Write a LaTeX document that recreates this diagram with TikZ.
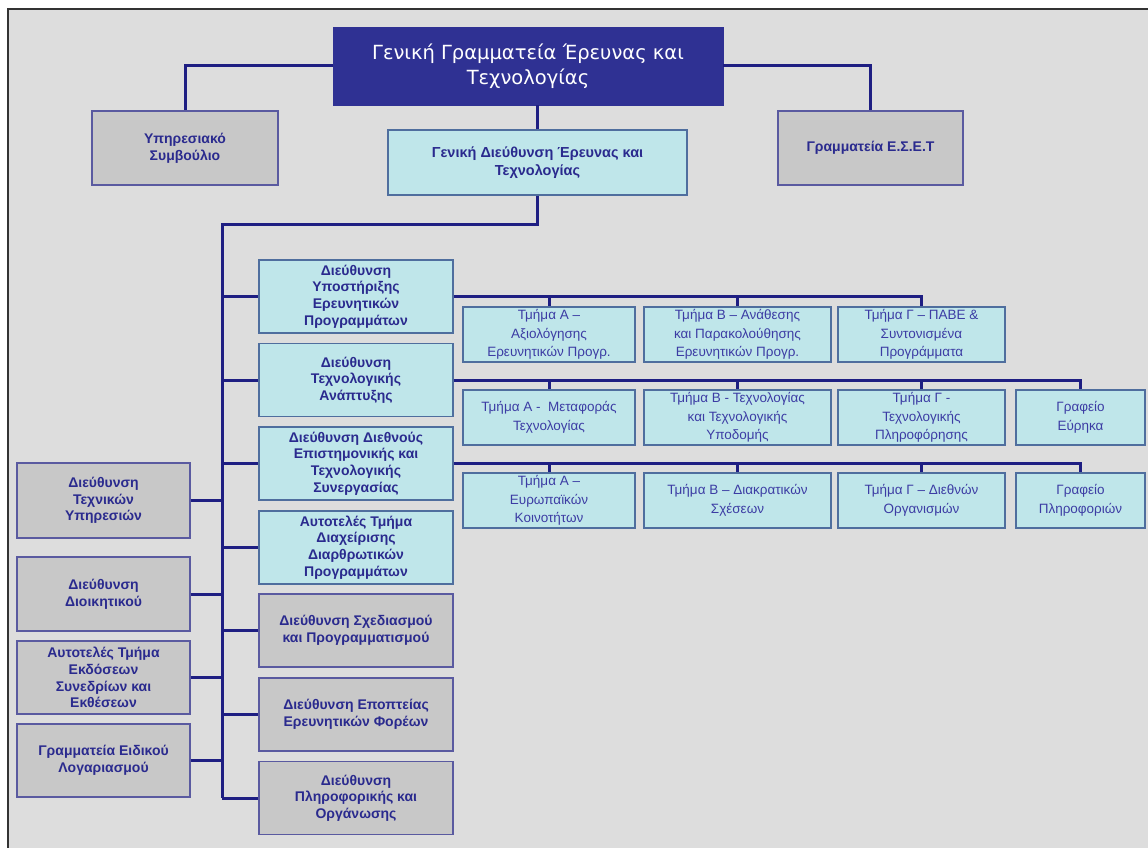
\documentclass[tikz,border=0pt]{standalone}
\usepackage{fontspec}
\setmainfont{Liberation Sans}
\newfontfamily\headfont{DejaVu Sans}
\definecolor{bg}{HTML}{DDDDDD}
\definecolor{navy}{HTML}{2F3193}
\definecolor{wire}{HTML}{1E1E82}
\definecolor{ink}{HTML}{2A2A8E}
\definecolor{lightink}{HTML}{3C3CA4}
\definecolor{grayfill}{HTML}{C8C8C8}
\definecolor{cyanfill}{HTML}{BFE6EA}
\definecolor{edge}{HTML}{5A5AA0}
\definecolor{cyanedge}{HTML}{4F6E9E}
\tikzset{ head/.style = { rectangle
                       , fill = navy
                       , draw = navy
                       , text = white
                       , align = center
                       , inner sep = 2pt
                       , font = \headfont\fontsize{19.5}{25}\selectfont
                       },
            g/.style = { rectangle
            , fill = grayfill
            , draw = edge
            , line width = 1.3pt
            , text = ink
            , align = center
            , inner sep = 1pt
            , font = \fontsize{14}{16.7}\selectfont\bfseries
            },
            c/.style = { g
            , fill = cyanfill
            , draw = cyanedge
            },
            s/.style = { c
            , text = lightink
            , inner sep = 0pt
            , minimum height = 55pt
            , font = \fontsize{13.5}{18.5}\selectfont
            },
            link/.style = { draw = wire
            , line width = 3pt
            }
          }

\begin{document}
\begin{tikzpicture}[x=1pt, y=-1pt]
            \useasboundingbox (0,0) rectangle (1148,848);
            \fill[white] (0,0) rectangle (1148,848);
            \fill[bg] (8,9) rectangle (1148,848);
            \draw[black!80, line width=1.5pt] (1148,9) -- (8,9) -- (8,848);

            % top level
            \node[head, minimum width=390pt, minimum height=78pt] (gget) at (528,66)
                {Γενική Γραμματεία Έρευνας και\\Τεχνολογίας};
            \node[g, minimum width=186pt, minimum height=74pt] (ypsym) at (185,148)
                {Υπηρεσιακό\\Συμβούλιο};
            \node[c, minimum width=299pt, minimum height=65pt, font=\fontsize{14.5}{18}\selectfont\bfseries] (gdet) at (537.5,162.5)
                {Γενική Διεύθυνση Έρευνας και\\Τεχνολογίας};
            \node[g, minimum width=185pt, minimum height=74pt] (eset) at (870.5,148)
                {Γραμματεία Ε.Σ.Ε.Τ};

            % middle column
            \node[c, minimum width=194pt, minimum height=73pt] (dyp) at (356,296.5)
                {Διεύθυνση\\Υποστήριξης\\Ερευνητικών\\Προγραμμάτων};
            \node[c, minimum width=194pt, minimum height=73pt] (dta) at (356,380)
                {Διεύθυνση\\Τεχνολογικής\\Ανάπτυξης};
            \node[c, minimum width=194pt, minimum height=73pt] (ddes) at (356,463.5)
                {Διεύθυνση Διεθνούς\\Επιστημονικής και\\Τεχνολογικής\\Συνεργασίας};
            \node[c, minimum width=194pt, minimum height=73pt] (atd) at (356,547.5)
                {Αυτοτελές Τμήμα\\Διαχείρισης\\Διαρθρωτικών\\Προγραμμάτων};
            \node[g, minimum width=194pt, minimum height=73pt] (dsp) at (356,630.5)
                {Διεύθυνση Σχεδιασμού\\και Προγραμματισμού};
            \node[g, minimum width=194pt, minimum height=73pt] (dep) at (356,714.5)
                {Διεύθυνση Εποπτείας\\Ερευνητικών Φορέων};
            \node[g, minimum width=194pt, minimum height=73pt] (dpo) at (356,798)
                {Διεύθυνση\\Πληροφορικής και\\Οργάνωσης};

            % left column
            \node[g, minimum width=173pt, minimum height=75pt] (dtu) at (103.5,500.5)
                {Διεύθυνση\\Τεχνικών\\Υπηρεσιών};
            \node[g, minimum width=173pt, minimum height=74pt] (ddi) at (103.5,594)
                {Διεύθυνση\\Διοικητικού};
            \node[g, minimum width=173pt, minimum height=73pt] (ate) at (103.5,677.5)
                {Αυτοτελές Τμήμα\\Εκδόσεων\\Συνεδρίων και\\Εκθέσεων};
            \node[g, minimum width=173pt, minimum height=73pt] (gel) at (103.5,760.5)
                {Γραμματεία Ειδικού\\Λογαριασμού};

            % departments
            \node[s, minimum width=172pt] (ya) at (549,334.5)
                {Τμήμα Α –\\Αξιολόγησης\\Ερευνητικών Προγρ.};
            \node[s, minimum width=187pt] (yb) at (737.5,334.5)
                {Τμήμα Β – Ανάθεσης\\και Παρακολούθησης\\Ερευνητικών Προγρ.};
            \node[s, minimum width=167pt] (yc) at (921.5,334.5)
                {Τμήμα Γ – ΠΑΒΕ \&\\Συντονισμένα\\Προγράμματα};
            \node[s, minimum width=172pt] (ta) at (549,417.5)
                {Τμήμα Α -\ \ Μεταφοράς\\Τεχνολογίας};
            \node[s, minimum width=187pt] (tb) at (737.5,417.5)
                {Τμήμα Β - Τεχνολογίας\\και Τεχνολογικής\\Υποδομής};
            \node[s, minimum width=167pt] (tc) at (921.5,417.5)
                {Τμήμα Γ -\\Τεχνολογικής\\Πληροφόρησης};
            \node[s, minimum width=129pt] (td) at (1080.5,417.5)
                {Γραφείο\\Εύρηκα};
            \node[s, minimum width=172pt] (da) at (549,500.5)
                {Τμήμα Α –\\Ευρωπαϊκών\\Κοινοτήτων};
            \node[s, minimum width=187pt] (db) at (737.5,500.5)
                {Τμήμα Β – Διακρατικών\\Σχέσεων};
            \node[s, minimum width=167pt] (dc) at (921.5,500.5)
                {Τμήμα Γ – Διεθνών\\Οργανισμών};
            \node[s, minimum width=129pt] (dd) at (1080.5,500.5)
                {Γραφείο\\Πληροφοριών};

            \coordinate (trunk) at (222,224);
            \coordinate (trunkend) at (222,798);

            \path[link] (gget.west) -| (ypsym.north);
            \path[link] (gget.east) -| (eset.north);
            \path[link] (gdet.north) -- (gdet.north |- gget.south);
            \path[link] (gdet.south) |- (trunk) -- (trunkend);
            \foreach \n in {dyp, dta, ddes, atd, dsp, dep, dpo}
                \path[link] (\n.west -| trunk) -- (\n.west);
            \foreach \n in {dtu, ddi, ate, gel}
                \path[link] (\n.east) -- (\n.east -| trunk);

            \path[link] (dyp.east) -| (yc.north);
            \path[link] (dta.east) -| (td.north);
            \path[link] (ddes.east) -| (dd.north);
            \foreach \n/\r in {ya/dyp, yb/dyp, ta/dta, tb/dta, tc/dta, da/ddes, db/ddes, dc/ddes}
                \path[link] (\r.east -| \n.north) -- (\n.north);
\end{tikzpicture}
\end{document}
